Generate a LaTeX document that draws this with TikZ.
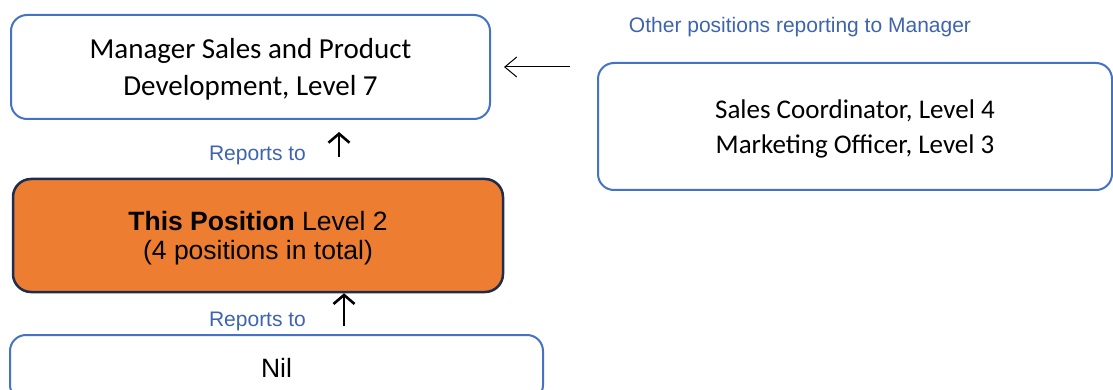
\documentclass[tikz,border=0pt]{standalone}
\usepackage{fontspec}
\setmainfont{Carlito}
\newfontfamily\arialfont{Liberation Sans}
\usetikzlibrary{arrows.meta}
\definecolor{boxblue}{RGB}{68,114,196}
\definecolor{labelblue}{RGB}{62,100,173}
\definecolor{posorange}{RGB}{237,125,49}
\definecolor{posedge}{RGB}{30,44,78}

\begin{document}
\begin{tikzpicture}[x=1pt, y=-1pt,
  box/.style={draw=boxblue, line width=2pt, rounded corners=16pt, fill=white,
    align=center, inner sep=0pt, text depth=0pt},
  thisbox/.style={draw=posedge, line width=2.5pt, rounded corners=18pt, fill=posorange,
    align=center, inner sep=0pt, text depth=0pt},
  tag/.style={font=\arialfont\fontsize{21}{25}\selectfont, text=labelblue, inner sep=0pt},
  uparrow/.style={line width=2.8pt, -{Straight Barb[length=9pt,width=21pt,line width=2.6pt]}},
  sidearrow/.style={line width=1pt, -{Straight Barb[length=12pt,width=20pt,line width=1pt]}}]
\useasboundingbox (0,0) rectangle (1113,390);

% boxes
\node[box, minimum width=479pt, minimum height=104pt,
  font=\fontsize{29}{37}\selectfont] (mgr) at (250.5,67)
  {Manager Sales and Product\\Development, Level 7};
\node[box, minimum width=514pt, minimum height=127pt,
  font=\fontsize{27}{35}\selectfont] (other) at (855,126.5)
  {Sales Coordinator, Level 4\\Marketing Officer, Level 3};
\node[thisbox, minimum width=490pt, minimum height=113pt,
  font=\arialfont\fontsize{26.5}{29}\selectfont] (this) at (258,235.5)
  {{\bfseries This Position} Level 2\\(4 positions in total)};
\node[box, anchor=north, minimum width=533pt, minimum height=66pt,
  font=\arialfont\fontsize{26.5}{29}\selectfont] (nil) at (276.5,334) {Nil};

% labels
\node[tag, anchor=base] (rep1) at (257.5,161) {Reports to};
\node[tag, anchor=base] (rep2) at (257.5,326) {Reports to};
\node[tag, anchor=base] (otherlbl) at (800,33) {Other positions reporting to Manager};

% connectors
\coordinate (a1) at (339,0);
\coordinate (a2) at (344,0);
\coordinate (a3) at (0,67);
\draw[uparrow, shorten <=21pt, shorten >=12pt] (this.north -| a1) -- (mgr.south -| a1);
\draw[uparrow, shorten <=8pt, shorten >=0pt] (nil.north -| a2) -- (this.south -| a2);
\draw[sidearrow, shorten <=27pt, shorten >=13pt] (other.west |- a3) -- (mgr.east |- a3);
\end{tikzpicture}
\end{document}
